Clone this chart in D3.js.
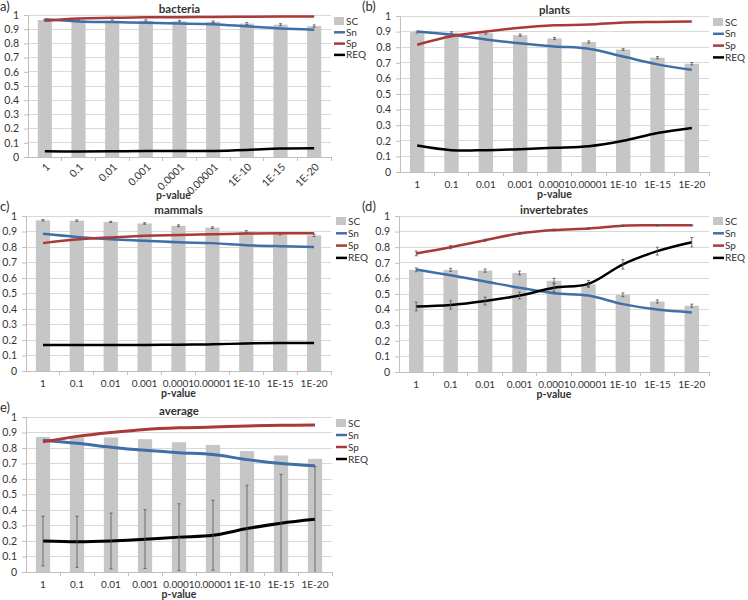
<!DOCTYPE html>
<html><head><meta charset="utf-8">
<script src="https://cdn.jsdelivr.net/npm/d3@7"></script>
<style>
body{margin:0;background:#fff}
svg text{font-family:Lato,"Liberation Sans",sans-serif;fill:#333}
</style>
</head><body>
<svg id="chart" width="748" height="600"></svg>
<script>
// ---------- data ----------
const pValues = ["1","0.1","0.01","0.001","0.0001","0.00001","1E-10","1E-15","1E-20"];
const yTicks = [0,0.1,0.2,0.3,0.4,0.5,0.6,0.7,0.8,0.9,1];
const seriesNames = ["SC","Sn","Sp","REQ"];

const bacteriaSC  = [0.965,0.965,0.96,0.96,0.956,0.952,0.94,0.932,0.922];
const bacteriaSCerr = [0.006,0.006,0.006,0.006,0.006,0.006,0.007,0.007,0.008];
const bacteriaSn  = [0.97,0.955,0.95,0.945,0.94,0.935,0.92,0.905,0.897];
const bacteriaSp  = [0.96,0.976,0.98,0.984,0.985,0.986,0.988,0.99,0.99];
const bacteriaREQ = [0.04,0.038,0.04,0.042,0.042,0.043,0.05,0.06,0.062];

const plantsSC  = [0.897,0.893,0.89,0.877,0.856,0.833,0.785,0.733,0.694];
const plantsSCerr = [0.006,0.006,0.006,0.007,0.007,0.007,0.006,0.007,0.008];
const plantsSn  = [0.9,0.88,0.85,0.825,0.805,0.79,0.74,0.69,0.655];
const plantsSp  = [0.816,0.87,0.9,0.925,0.94,0.945,0.958,0.962,0.965];
const plantsREQ = [0.17,0.14,0.14,0.146,0.155,0.165,0.2,0.25,0.282];

const mammalsSC  = [0.972,0.97,0.962,0.952,0.937,0.925,0.9,0.885,0.875];
const mammalsSCerr = [0.005,0.005,0.004,0.005,0.006,0.005,0.006,0.007,0.008];
const mammalsSn  = [0.885,0.865,0.85,0.84,0.83,0.825,0.812,0.805,0.8];
const mammalsSp  = [0.825,0.848,0.862,0.872,0.878,0.882,0.887,0.888,0.888];
const mammalsREQ = [0.168,0.167,0.167,0.168,0.17,0.172,0.178,0.18,0.18];

const invertSC  = [0.655,0.655,0.65,0.635,0.585,0.562,0.495,0.452,0.425];
const invertSCerr = [0.012,0.01,0.01,0.012,0.015,0.012,0.012,0.01,0.01];
const invertSn  = [0.657,0.62,0.58,0.54,0.505,0.49,0.435,0.4,0.382];
const invertSp  = [0.76,0.8,0.845,0.888,0.91,0.92,0.938,0.94,0.94];
const invertSpErr = [0.015,0.01,0.006,0.005,0.005,0.004,0.004,0.004,0.004];
const invertREQ = [0.42,0.43,0.455,0.49,0.54,0.565,0.69,0.775,0.832];
const invertREQerr = [0.028,0.027,0.025,0.022,0.025,0.022,0.03,0.025,0.03];

const averageSC  = [0.871,0.87,0.868,0.857,0.837,0.82,0.78,0.752,0.73];
const averageSn  = [0.85,0.83,0.805,0.785,0.77,0.758,0.725,0.7,0.685];
const averageSp  = [0.84,0.875,0.9,0.92,0.93,0.935,0.942,0.946,0.948];
const averageREQ = [0.2,0.195,0.2,0.212,0.225,0.237,0.28,0.315,0.34];
const averageREQerr = [0.16,0.165,0.18,0.19,0.215,0.225,0.28,0.315,0.34];

// ---------- layout ----------
const colors = {SC:"#c6c6c6", Sn:"#3f6fa9", Sp:"#a83a3a", REQ:"#000000"};
const panels = [
  {tag:"a)", tagX:0, tagY:11, title:"bacteria", x0:28, x1:331, yTop:15, yBot:157, rotate:true,
   legX:334, legY:21, legStep:11.3, lw:2.5,
   SC:bacteriaSC, SCerr:bacteriaSCerr, Sn:bacteriaSn, Sp:bacteriaSp, REQ:bacteriaREQ},
  {tag:"(b)", tagX:362, tagY:11, title:"plants", x0:400, x1:709, yTop:16, yBot:172,
   legX:713, legY:22, legStep:11.8, lw:2.5,
   SC:plantsSC, SCerr:plantsSCerr, Sn:plantsSn, Sp:plantsSp, REQ:plantsREQ},
  {tag:"c)", tagX:0, tagY:211, title:"mammals", x0:26, x1:331, yTop:216, yBot:371,
   legX:336, legY:221, legStep:12.3, lw:2.5,
   SC:mammalsSC, SCerr:mammalsSCerr, Sn:mammalsSn, Sp:mammalsSp, REQ:mammalsREQ},
  {tag:"(d)", tagX:362, tagY:211, title:"invertebrates", x0:399, x1:709, yTop:216, yBot:372,
   legX:713, legY:221, legStep:12.3, lw:2.5,
   SC:invertSC, SCerr:invertSCerr, Sn:invertSn, Sp:invertSp, SpErr:invertSpErr, REQ:invertREQ, REQerr:invertREQerr},
  {tag:"e)", tagX:0, tagY:412, title:"average", x0:26, x1:332, yTop:417, yBot:572,
   legX:336, legY:423, legStep:12, lw:3,
   SC:averageSC, Sn:averageSn, Sp:averageSp, REQ:averageREQ, REQerr:averageREQerr}
];

const svg = d3.select("#chart");

panels.forEach(p => {
  const g = svg.append("g");
  const x = d3.scaleBand().domain(pValues).range([p.x0, p.x1]).paddingInner(0.58).paddingOuter(0.29);
  const y = d3.scaleLinear().domain([0,1]).range([p.yBot, p.yTop]);
  const cx = d => x(d) + x.bandwidth()/2;

  // gridlines
  g.selectAll(".grid").data(yTicks.slice(1)).join("line")
    .attr("x1", p.x0).attr("x2", p.x1).attr("y1", d=>y(d)).attr("y2", d=>y(d))
    .attr("stroke", "#d9d9d9").attr("stroke-width", 1).attr("shape-rendering","crispEdges");

  // y axis
  const yAxis = d3.axisLeft(y).tickValues(yTicks).tickFormat(d3.format("~g")).tickSize(4).tickPadding(5);
  const ya = g.append("g").attr("transform", `translate(${p.x0},0)`).call(yAxis);
  ya.select(".domain").attr("stroke","#bfbfbf");
  ya.selectAll(".tick line").attr("stroke","#bfbfbf");
  ya.selectAll(".tick text").attr("font-size", 10.5).attr("fill","#333")
    .style("font-family","Lato, 'Liberation Sans', sans-serif");

  // x axis line + boundary ticks
  g.append("line").attr("x1", p.x0).attr("x2", p.x1).attr("y1", p.yBot).attr("y2", p.yBot)
    .attr("stroke","#bfbfbf").attr("shape-rendering","crispEdges");
  const step = x.step();
  const bounds = pValues.map((d,i)=> i===0 ? null : x(d) - x.paddingInner()*step/2).filter(v=>v!==null);
  bounds.push(p.x1);
  g.selectAll(".xt").data(bounds).join("line")
    .attr("x1", d=>d).attr("x2", d=>d).attr("y1", p.yBot).attr("y2", p.yBot+4)
    .attr("stroke","#bfbfbf").attr("shape-rendering","crispEdges");

  // x labels
  if (p.rotate) {
    g.selectAll(".xl").data(pValues).join("text")
      .attr("transform", d=>`translate(${cx(d)+3},${p.yBot+8}) rotate(-45)`)
      .attr("text-anchor","end").attr("dy","0.35em").attr("font-size",10.5).text(d=>d);
  } else {
    g.selectAll(".xl").data(pValues).join("text")
      .attr("x", cx).attr("y", p.yBot+16).attr("text-anchor","middle")
      .attr("font-size",10).text(d=>d);
  }
  g.append("text").attr("x", (p.x0+p.x1)/2 - (p.rotate? 6:0)).attr("y", p.yBot + (p.rotate?42:25.5))
    .attr("text-anchor","middle").attr("font-size",10.5).attr("font-weight","bold").text("p-value");

  // bars
  g.selectAll(".bar").data(pValues).join("rect")
    .attr("x", d=>x(d)).attr("width", x.bandwidth())
    .attr("y", (d,i)=>y(p.SC[i])).attr("height", (d,i)=>y(0)-y(p.SC[i]))
    .attr("fill", colors.SC);

  const errBars = (vals, errs) => {
    if (!errs) return;
    const eg = g.append("g").attr("stroke","#555").attr("stroke-width",0.8);
    pValues.forEach((d,i)=>{
      const lo = Math.max(0, vals[i]-errs[i]), hi = vals[i]+errs[i];
      eg.append("line").attr("x1",cx(d)).attr("x2",cx(d)).attr("y1",y(lo)).attr("y2",y(hi));
      eg.append("line").attr("x1",cx(d)-1.5).attr("x2",cx(d)+1.5).attr("y1",y(hi)).attr("y2",y(hi));
      if (vals[i]-errs[i] > 0)
        eg.append("line").attr("x1",cx(d)-1.5).attr("x2",cx(d)+1.5).attr("y1",y(lo)).attr("y2",y(lo));
    });
  };
  errBars(p.SC, p.SCerr);

  // lines
  const line = vals => d3.line().x(d=>cx(d)).y((d,i)=>y(vals[i])).curve(d3.curveCatmullRom.alpha(0.5))(pValues);
  ["Sn","Sp","REQ"].forEach(s => {
    g.append("path").attr("d", line(p[s])).attr("fill","none")
      .attr("stroke", colors[s]).attr("stroke-width", p.lw).attr("stroke-linejoin","round");
  });
  errBars(p.Sp, p.SpErr);
  errBars(p.REQ, p.REQerr);

  // title
  g.append("text").attr("x", (p.x0+p.x1)/2).attr("y", p.yTop-2).attr("text-anchor","middle")
    .attr("font-size",11.5).attr("font-weight","bold").text(p.title);

  // panel tag
  g.append("text").attr("x", p.tagX).attr("y", p.tagY).attr("font-size",13).text(p.tag);

  // legend
  const lg = g.append("g");
  seriesNames.forEach((s,i)=>{
    const ly = p.legY + i*p.legStep;
    if (s==="SC") {
      lg.append("rect").attr("x", p.legX).attr("y", ly-4).attr("width",10).attr("height",8).attr("fill",colors.SC);
    } else {
      lg.append("line").attr("x1", p.legX).attr("x2", p.legX+11).attr("y1", ly).attr("y2", ly)
        .attr("stroke", colors[s]).attr("stroke-width", 2.5);
    }
    lg.append("text").attr("x", p.legX+12).attr("y", ly).attr("dy","0.35em").attr("font-size",10).text(s);
  });
});
</script>
</body></html>
